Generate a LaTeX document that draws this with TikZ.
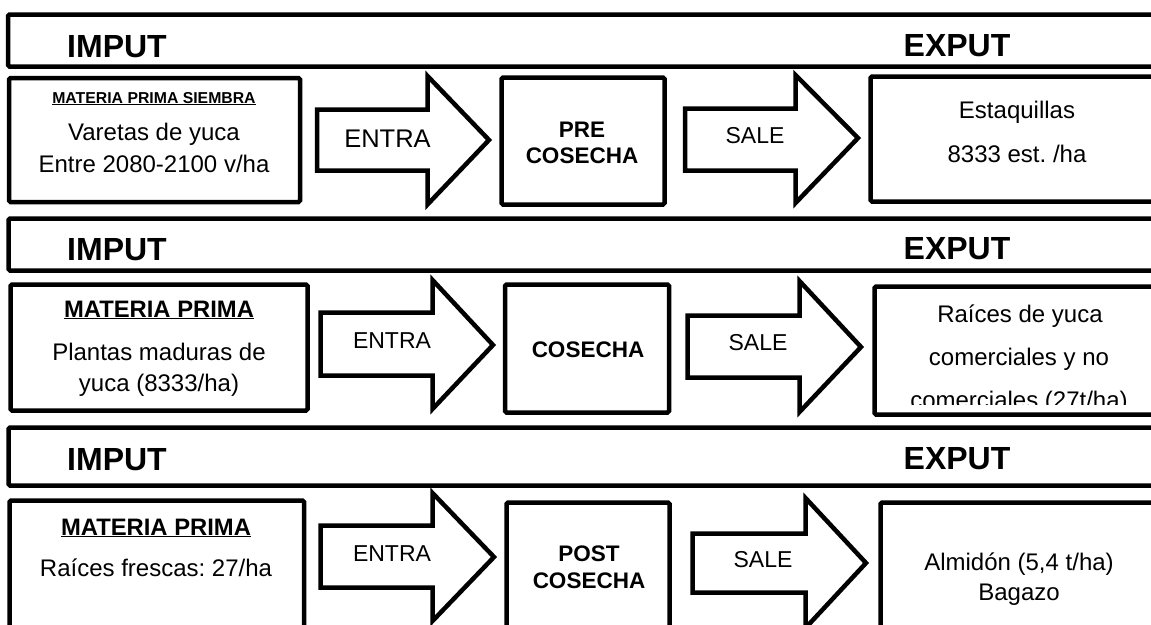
\documentclass[tikz,border=0pt]{standalone}
\usepackage{fontspec}
\setmainfont{Liberation Sans}
\frenchspacing
\begin{document}
\begin{tikzpicture}[x=1pt,y=-1pt, line width=4.5pt, line join=miter,
  frame/.style={draw=black, rounded corners=1.5pt},
  bigtxt/.style={font=\fontsize{32}{36}\selectfont\bfseries, anchor=base, inner sep=0pt},
  txt/.style={font=\fontsize{24}{28}\selectfont, anchor=base, inner sep=0pt},
  smalltxt/.style={font=\fontsize{23}{28}\selectfont, anchor=base, inner sep=0pt},
  boldtxt/.style={font=\fontsize{22.5}{26}\selectfont\bfseries, anchor=base, inner sep=0pt},
  headtxt/.style={font=\fontsize{23.8}{28}\selectfont\bfseries, anchor=base, inner sep=0pt},
  tinyhead/.style={font=\fontsize{15.8}{18}\selectfont\bfseries, anchor=base, inner sep=0pt},
  arrowshape/.style={draw=black, fill=white}]
\useasboundingbox (0,0) rectangle (1151,624);
\clip (0,0) rectangle (1151,624);

% ---------------- Row 1 ----------------
\draw[frame] (8,14.5) rectangle (1170,66.5);
\node[bigtxt] (imput1) at (117,57) {IMPUT};
\node[bigtxt] (exput1) at (957,56) {EXPUT};

\draw[frame] (9,78) rectangle (300,202);
\node[tinyhead] (mp1) at (154,103) {\underline{MATERIA PRIMA SIEMBRA}};
\node[txt] (var1) at (154,140) {Varetas de yuca};
\node[txt] (ent1) at (154,172) {Entre 2080-2100 v/ha};

\draw[arrowshape] (317,109.5) -- (427.5,109.5) -- (427.5,76) -- (489,140) -- (427.5,204.5) -- (427.5,170.5) -- (317,170.5) -- cycle;
\node[font=\fontsize{25.5}{28}\selectfont, anchor=base, inner sep=0pt] (entra1) at (387.5,147) {ENTRA};

\draw[frame] (501.5,77.5) rectangle (664.5,204.5);
\node[boldtxt] (pre1) at (582,137) {PRE};
\node[boldtxt] (cos1) at (582,163) {COSECHA};

\draw[arrowshape] (685,108.5) -- (795.5,108.5) -- (795.5,75) -- (858,138) -- (795.5,203) -- (795.5,170.5) -- (685,170.5) -- cycle;
\node[smalltxt] (sale1) at (755,143) {SALE};

\draw[frame] (870.5,76.5) rectangle (1170,201.5);
\node[txt] (est1) at (1017,118) {Estaquillas};
\node[txt] (num1) at (1017,162) {8333 est. /ha};

% ---------------- Row 2 ----------------
\draw[frame] (8.5,218.5) rectangle (1170,270.5);
\node[bigtxt] (imput2) at (117,260) {IMPUT};
\node[bigtxt] (exput2) at (957,259) {EXPUT};

\draw[frame] (10.5,284.5) rectangle (307.5,410.5);
\node[headtxt] (mp2) at (159,317) {\underline{MATERIA PRIMA}};
\node[txt] (pl2) at (159,360) {Plantas maduras de};
\node[txt] (yu2) at (159,391) {yuca (8333/ha)};

\draw[arrowshape] (320.5,312.5) -- (432.5,312.5) -- (432.5,280) -- (493,345) -- (432.5,409) -- (432.5,375.5) -- (320.5,375.5) -- cycle;
\node[smalltxt] (entra2) at (392,348) {ENTRA};

\draw[frame] (505,284.5) rectangle (669,412.5);
\node[boldtxt] (cos2) at (588,357) {COSECHA};

\draw[arrowshape] (687.5,315.5) -- (799.5,315.5) -- (799.5,281) -- (861,347) -- (799.5,412) -- (799.5,377.5) -- (687.5,377.5) -- cycle;
\node[smalltxt] (sale2) at (758,350) {SALE};

\draw[frame] (874.5,286.5) rectangle (1170,414.5);
\node[txt] (ra2) at (1020,322) {Raíces de yuca};
\node[txt] (co2) at (1019,365) {comerciales y no};
\begin{scope}
  \clip (872,288) rectangle (1170,404);
  \node[txt] (co3) at (1019,408) {comerciales (27t/ha)};
\end{scope}

% ---------------- Row 3 ----------------
\draw[frame] (8.5,427.5) rectangle (1170,485.5);
\node[bigtxt] (imput3) at (117,470) {IMPUT};
\node[bigtxt] (exput3) at (957,469) {EXPUT};

\draw[frame] (9.5,500.5) rectangle (304,640);
\node[headtxt] (mp3) at (156,535) {\underline{MATERIA PRIMA}};
\node[txt] (rf3) at (156,576) {Raíces frescas: 27/ha};

\draw[arrowshape] (320.5,525.5) -- (432.5,525.5) -- (432.5,493) -- (494,557) -- (432.5,621) -- (432.5,587.5) -- (320.5,587.5) -- cycle;
\node[smalltxt] (entra3) at (392,561) {ENTRA};

\draw[frame] (506.5,502.5) rectangle (669.5,640);
\node[boldtxt] (post3) at (589,561) {POST};
\node[boldtxt] (cos3) at (589,588) {COSECHA};

\draw[arrowshape] (692.5,533.5) -- (805.5,533.5) -- (805.5,498) -- (866,563) -- (805.5,628) -- (805.5,592.5) -- (692.5,592.5) -- cycle;
\node[smalltxt] (sale3) at (763,567) {SALE};

\draw[frame] (880.5,502.5) rectangle (1170,640);
\node[txt] (alm3) at (1019,570) {Almidón (5,4 t/ha)};
\node[txt] (bag3) at (1019,600) {Bagazo};
\end{tikzpicture}
\end{document}
